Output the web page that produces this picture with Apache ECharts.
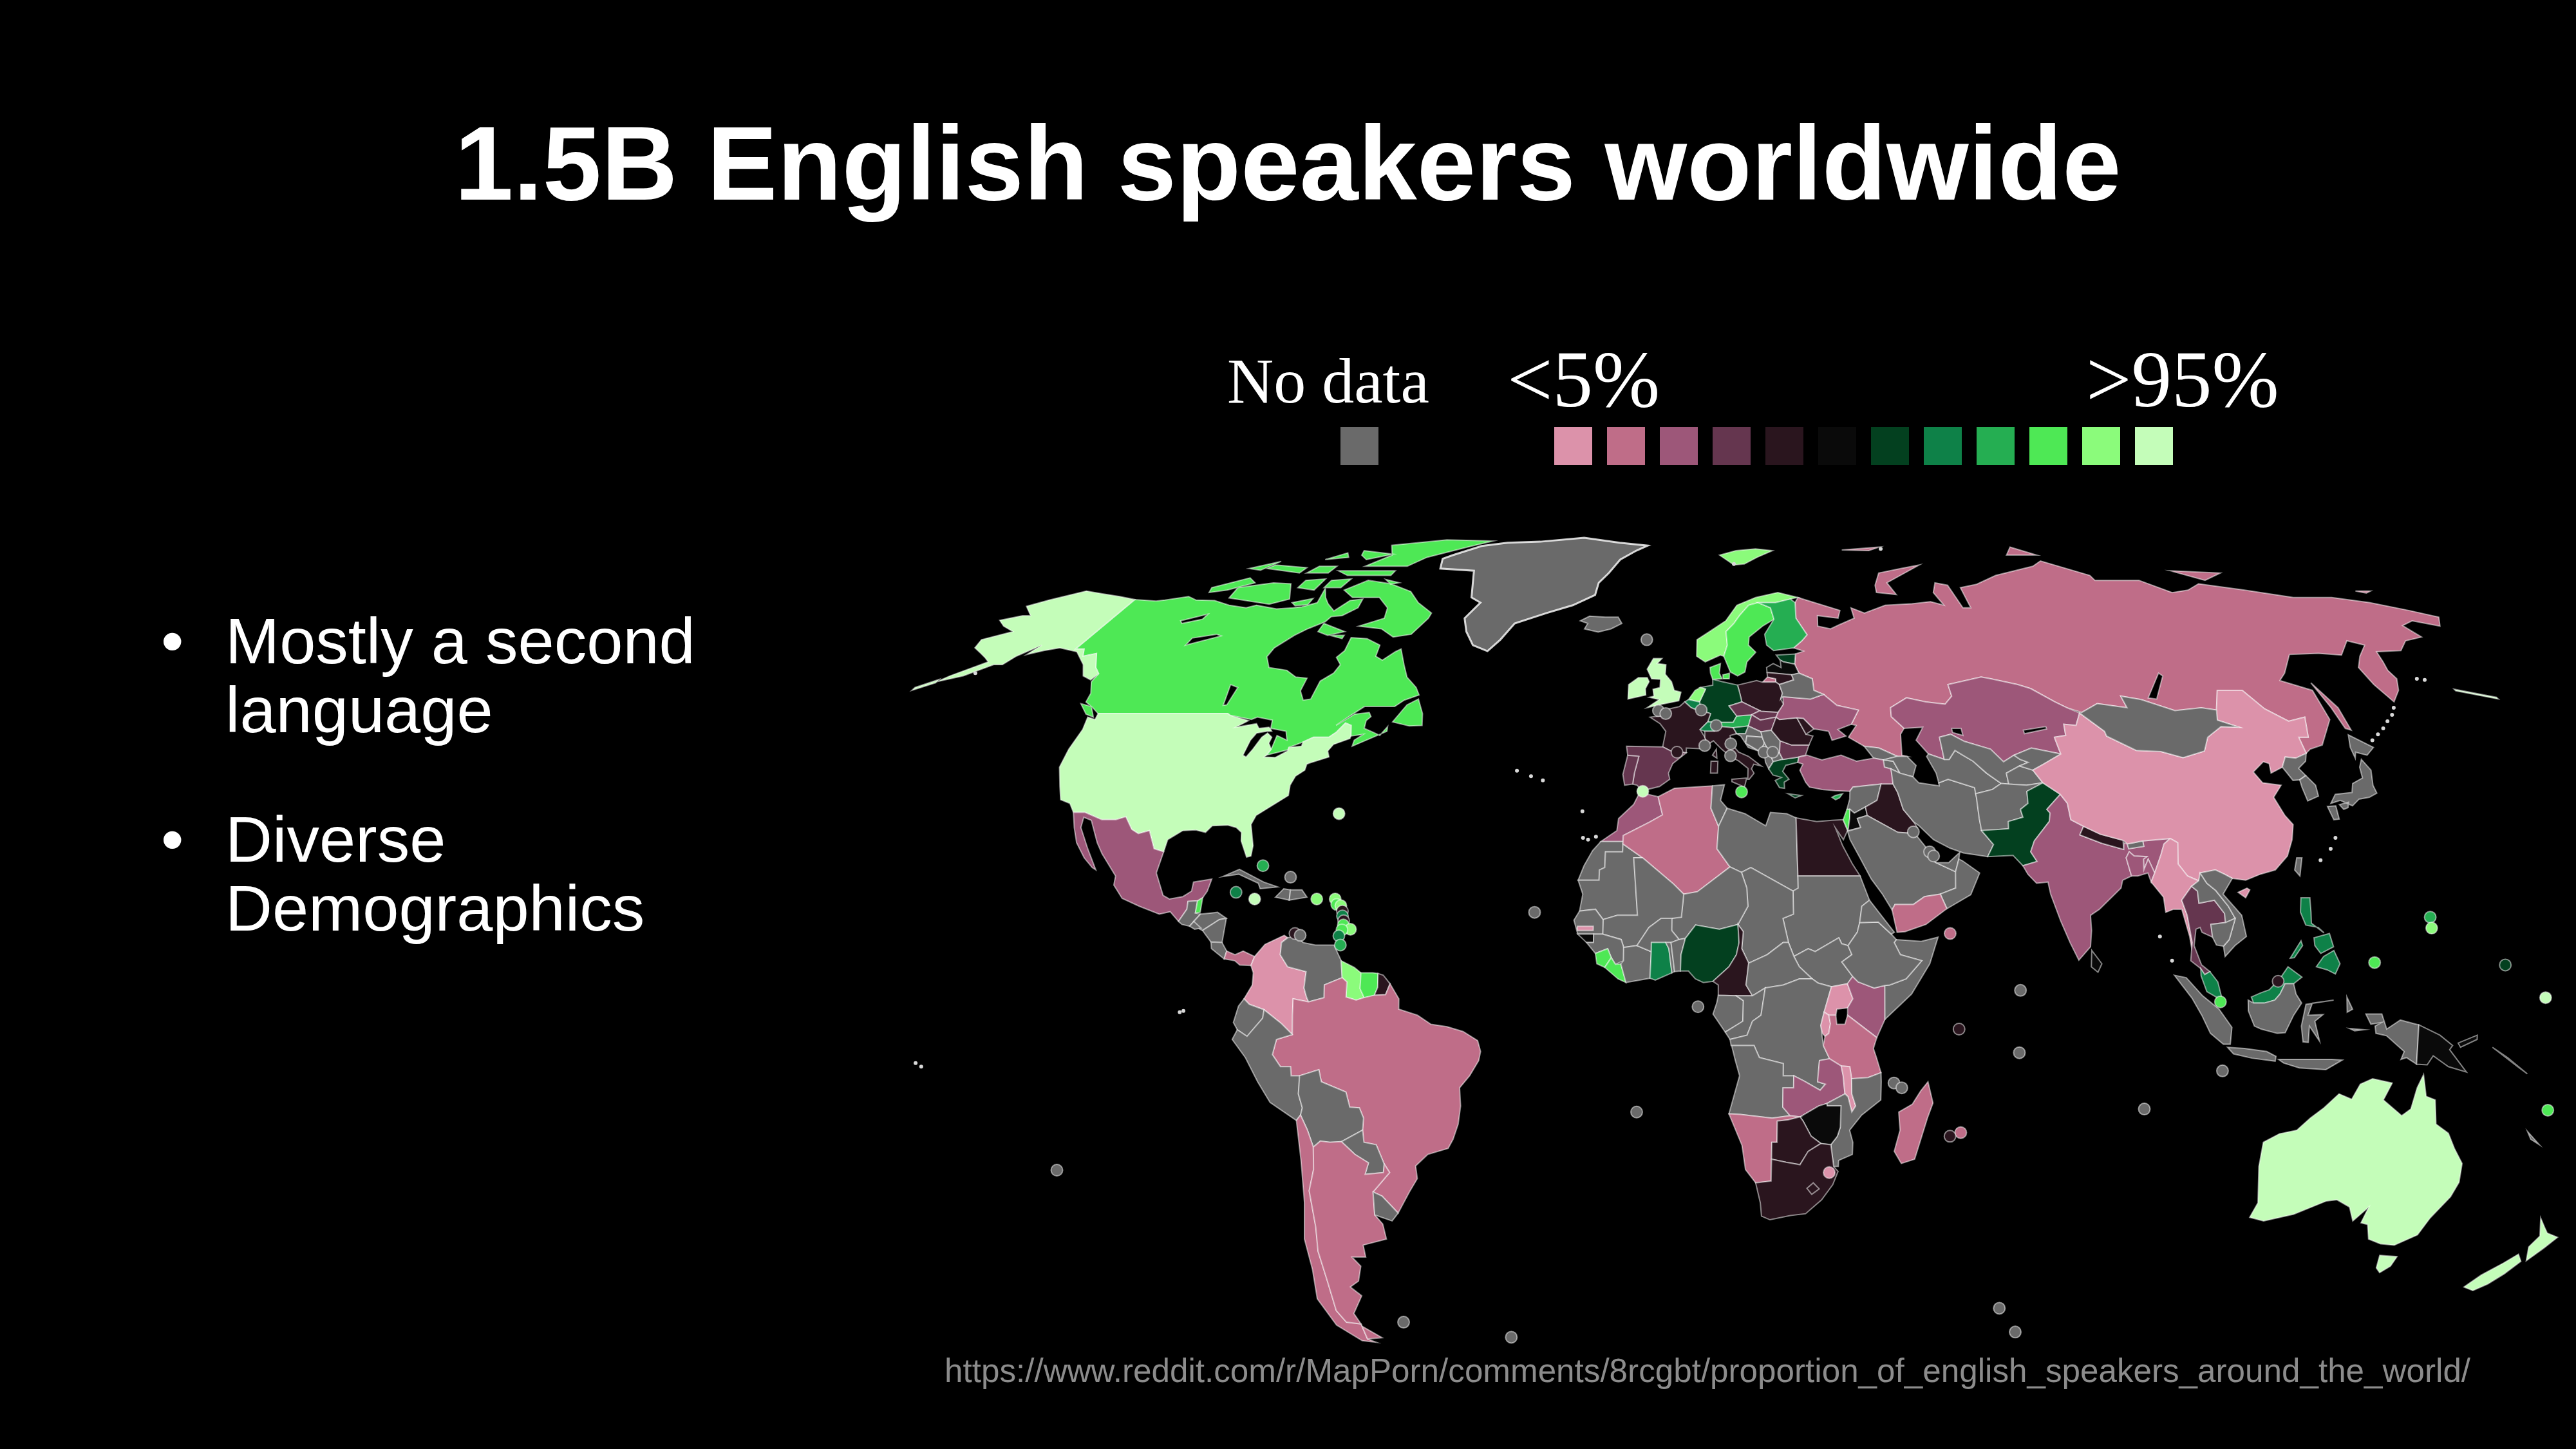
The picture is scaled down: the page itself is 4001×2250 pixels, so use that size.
<!DOCTYPE html>
<html>
<head>
<meta charset="utf-8">
<title>1.5B English speakers worldwide</title>
<script src="https://cdn.jsdelivr.net/npm/echarts@6/dist/echarts.min.js"></script>
<style>
  html, body { margin: 0; padding: 0; background: #000; }
  #main { width: 4001px; height: 2250px; }
</style>
</head>
<body>
<div id="main"></div>
<script>
// share bands, <5% ... >95%, same order as the legend
var bandColors = ['#dc92aa', '#bf6d88', '#9d5779', '#65364f', '#2a151e', '#0a0a0a',
  '#03401f', '#0e8148', '#25ae52', '#4ee855', '#8bfb7b', '#c4fdb9'];
var noDataColor = '#6a6a6a';

var noDataCountries = ['Greenland', 'Iceland', 'Guatemala', 'Honduras', 'El Salvador', 'Nicaragua', 'Costa Rica', 'Cuba',
  'Haiti', 'Dominican Rep.', 'Venezuela', 'Ecuador', 'Peru', 'Bolivia', 'Paraguay', 'Uruguay', 'W. Sahara', 'Mauritania',
  'Tunisia', 'Libya', 'Sudan', 'S. Sudan', 'Chad', 'Niger', 'Mali', 'Senegal', 'Guinea', "Cote d'Ivoire", 'Burkina Faso',
  'Togo', 'Benin', 'C.A.R.', 'Congo', 'Gabon', 'D.R.C.', 'Somalia', 'Ethiopia', 'Eritrea', 'Angola', 'Mozambique',
  'Croatia', 'Bosnia', 'Serbia', 'Montenegro', 'Albania', 'Macedonia', 'Belarus', 'Georgia', 'Armenia', 'Azerbaijan',
  'Syria', 'Saudi Arabia', 'U.A.E.', 'Oman', 'Iran', 'Turkmenistan', 'Uzbekistan', 'Tajikistan', 'Kyrgyzstan',
  'Afghanistan', 'Bhutan', 'Mongolia', 'Taiwan', 'N. Korea', 'S. Korea', 'Japan', 'Laos', 'Vietnam', 'Cambodia',
  'Indonesia', 'New Caledonia'];

var bandCountries = [
  ['China', 'Colombia', 'Myanmar', 'Gambia', 'Uganda', 'Malawi', 'Rwanda'],
  ['Russia', 'Brazil', 'Argentina', 'Chile', 'Algeria', 'Madagascar', 'Namibia', 'Yemen', 'Panama', 'Tanzania'],
  ['Mexico', 'Morocco', 'Ukraine', 'Kazakhstan', 'Turkey', 'India', 'Kenya', 'Zambia', 'Bangladesh'],
  ['Spain', 'Portugal', 'Czechia', 'Slovakia', 'Hungary', 'Bulgaria', 'Thailand'],
  ['France', 'Italy', 'Poland', 'Lithuania', 'Romania', 'Moldova', 'Egypt', 'Iraq', 'Cameroon', 'Botswana', 'South Africa', 'Lesotho', 'Nepal', 'French Guiana'],
  ['Latvia', 'Zimbabwe', 'Papua New Guinea', 'Sri Lanka', 'Jordan', 'Guinea-Bissau'],
  ['Germany', 'Pakistan', 'Nigeria', 'Estonia', 'Greece', 'Slovenia'],
  ['Ghana', 'Malaysia', 'Philippines', 'Switzerland', 'Belgium'],
  ['Finland', 'Austria', 'Cyprus'],
  ['Canada', 'Sweden', 'Denmark', 'Belize', 'Suriname', 'Sierra Leone', 'Liberia', 'Israel'],
  ['Norway', 'Netherlands', 'Guyana', 'Svalbard'],
  ['United States', 'United Kingdom', 'Ireland', 'Australia', 'New Zealand']
];

// small islands and microstates, [lon, lat, band] (0 = no data)
var islandDots = [
  [-77.6, 23.7, 9], [-64.8, 32.3, 12], [-82, 19.3, 8], [-78.3, 18.2, 12], [-72, 21.8, 0], [-66.5, 18.2, 11],
  [-63, 18.2, 11], [-62.6, 17.3, 10], [-61.8, 17.1, 11], [-61.4, 16.2, 5], [-61.3, 15.4, 8], [-61, 14.6, 5],
  [-61, 13.9, 10], [-59.6, 13.2, 11], [-61.2, 13.1, 10], [-61.7, 12.1, 8], [-61.3, 10.6, 9], [-70, 12.5, 5], [-69, 12.2, 0],
  [-118, -26.6, 0], [-59, -52, 0], [-36.3, -54.6, 0], [-25, 16, 0], [-5.7, -17, 0], [6, 0.4, 0], [-7, 62, 0],
  [-3, 49.5, 0], [-1.4, 49, 0], [6.2, 49.6, 0], [7, 43.6, 0], [1.3, 42.5, 5], [9.4, 47, 0], [12.4, 43.9, 0], [12.3, 41.9, 0],
  [19.2, 42.5, 0], [21, 42.5, 0], [-5.3, 36, 12], [14.4, 35.9, 10], [47.7, 29.3, 0], [50.5, 26, 0], [51.2, 25.3, 0],
  [42.9, -12.2, 0], [44.4, -13, 0], [54.9, -3.3, 5], [56, -20.4, 2], [54, -21, 5], [31.2, -27, 1], [66.4, 3.1, 0], [66.3, -7.2, 0],
  [53.5, 12.5, 2], [70.3, -49.6, 0], [75.8, -53.7, 0], [90.5, -16.5, 0], [104.6, -10.2, 0], [103.8, 1.2, 10], [114.7, 4.6, 5],
  [144.4, 15.2, 9], [144.4, 13.4, 11], [133, 7.7, 10], [157.5, 7.3, 7], [164.7, 1.9, 12], [167, -16.7, 10]
];

// specks too small to carry a colour, [lon, lat]
var islandSpecks = [
  [-28, 38.5], [-25.5, 37.8], [-31, 39.4], [-16.5, 28.3], [-14, 28.5], [-15.5, 28], [-17, 32.7], [-91, -0.5], [-90.3, -0.3],
  [-141, -8.9], [-140, -9.5], [146, 44.5], [148, 45.5], [150, 46.5], [152, 47.7], [154, 48.8], [155.5, 50], [128, 26.5],
  [125.5, 24.6], [129.5, 28.3], [166.5, 55], [168, 54.8], [-158, 56], [15, 77], [60, 80.5], [95, 8], [93, 12]
];

var outlines = {
  'Russia': [
    '31,70 33,69.5 41,67.5 40,66 35,66.5 34.5,64.5 37.5,64 40,64.8 44,66 44,68 47,67 53,68.5 60,68.8 65,69.2 68,68.5 67,71 69,73 72,72.5 72.5,68 74.5,68 75,72 80,72.7 87,74.5 100,76.5 104,77.7 113,74.5 113,73.5 125,73.5 130,71 135,71.5 140,72.8 150,71.5 160,70 170,70 178,69 185,67.5 190,66.2 187,64.5 182,65.5 178,64.6 179,62.5 174,61.8 170,60 164,59.8 163,58 162,56.5 162,55 160,53 156.7,51 155.7,54 156,57 159,59 163,61 160,61.8 155,59.2 150,59.5 143,59.3 138,56 135.5,54.7 141,53 140,48 135,43.7 132,43 130.7,42.3 131,45 133,45 135,48.4 131,47.7 127.5,49.8 125.5,53 120,53 117,49.6 114,50 108,49.5 102,51.4 98,52 98,50 92,50.7 87.8,49.2 85,50 83,51 79,53.3 76.5,54 71,55 69,55.3 61,54 61,52 59,50.6 55,51 51,51.7 47,50 46.8,48.5 49,46.5 48,45.5 47.5,42 48.5,41.8 46.5,41.8 43,43.2 40,43.5 37,45 39,47 38,47.2 40,49.6 35.5,50.4 33,52.3 31,53 31,55 28.2,56 27.5,57.6 28,59.4 30,59.9 27.8,60.5 30,61.8 31.5,62.9 29.5,66 30,69',
    '19.8,54.4 22.8,54.4 22.8,55 21,55.3',
    '52,71 57,70.6 56,73 68,76.8 62,76 55,75 52.5,72.5',
    '142,54.3 143.5,50 143,46.2 142,46.5 142,50',
    '96,79 105,79 100,81',
    '137,75.5 150,75 143,73.5',
    '179,71.3 183,71.3 181,70.9',
    '48,80.2 60,81 56,80'
  ],
  'Canada': [
    '-141,69.6 -135,69.3 -133,69.5 -128,70.2 -125,69.5 -120,69.4 -115,68.5 -110,68 -108,68.5 -102,67.8 -98,68 -96,68.2 -93,69 -94.5,71.9 -92,70 -90,68.8 -87,67.4 -85,69.4 -82,69.7 -81.5,68 -84,66.5 -86.5,66.3 -87,65.3 -90,64 -92,62.8 -94.5,60.5 -94.7,58.9 -92.5,57 -88,56.5 -85,55.3 -82.3,55.1 -82.2,52.9 -80.5,51.3 -79,51.5 -79,54.6 -77,56 -76.6,57.5 -78.5,58.8 -77.5,60 -78,62.4 -74,62.2 -70,61 -69.5,59 -67.5,58.3 -65.5,59.8 -64.5,60.3 -62,57.5 -60,55.3 -57,53.5 -55.7,52.2 -58.5,51.3 -60,50.2 -66.5,50.2 -69,48.5 -71,47 -68,48.9 -65,49.2 -64.3,48.5 -65,47.8 -64.8,46.5 -62.5,45.8 -61,45.3 -60,46.8 -59.8,46 -63.5,44.5 -66,43.5 -66,44.5 -64.5,45.5 -67,45.2 -67.8,47 -69.2,47.4 -70.3,45.9 -71.5,45 -74.7,45 -76.5,44.2 -79,43.3 -79,42.9 -83,42 -82.5,43 -82.5,45.3 -80,44.5 -81,46 -84.5,46.5 -85,47.9 -88.5,48.4 -89.5,48 -94.5,48.7 -95.2,49 -123,49 -125,50 -127.5,51 -128,52.5 -130,54.5 -130,55.9 -132,57 -135,59.5 -137.5,59 -139,60.3 -141,60.3',
    '-123.5,48.4 -125.5,48.9 -128.3,50.7 -125.5,50.2',
    '-59.3,47.6 -55.5,46.9 -52.8,47 -53.5,49 -55.5,51.5 -57.5,50.5',
    '-62,66 -64,63 -68,62.5 -72,64 -78,64.5 -73,66 -74,68 -78,70 -85,70 -89,71.5 -85,73.5 -78,72.8 -71,71.2 -67,69 -62,67',
    '-117,69.9 -105,68.7 -101,69.7 -105,72.8 -110,73 -118,72',
    '-125,72 -118,74 -115,73 -120,71.5 -124,71',
    '-90,76.5 -78,76.5 -75,78.5 -66,81 -60,82.7 -75,83 -90,81.5 -86,79',
    '-96,75.5 -80,75.5 -80,74.5 -92,74.5',
    '-96,80 -86,79.2 -92,78 -95,79',
    '-117,76 -106,75 -106,76.2 -116,76.8',
    '-87,65 -80.5,63.5 -84,62.8 -87,63.5',
    '-95,73.5 -90,73.8 -90.5,72 -95,72',
    '-102,73.5 -97,73.8 -97,71.5 -102,72',
    '-99.5,69 -95,69.8 -95,68.6 -98,68.4',
    '-104,75 -98,75 -98,76.5 -103,76.5',
    '-122,76 -116,77.6 -118,75.6',
    '-104,78 -98,78.5 -100,79.5',
    '-80.5,73.7 -76,73 -78,72.7',
    '-83.5,62.8 -80,62.2 -80,62.8'
  ],
  'United States': [
    '-123,49 -95.2,49 -94.5,48.7 -90,47.8 -92,46.7 -88,47.3 -87,46.5 -85,46.7 -84.5,46.4 -84,46 -85,46 -87,45.7 -87.6,44.5 -87.8,42 -87,41.7 -86.3,43 -85.5,45 -84.7,45.7 -83.4,45 -83.5,44 -82.5,43 -83,42 -83.3,41.7 -81,41.6 -79,42.7 -79,43.3 -76.5,43.5 -76.5,44.2 -74.7,45 -71.5,45 -70.3,45.9 -69.2,47.4 -67.8,47 -67,45.2 -67,44.8 -70,43.8 -70.7,42.7 -70,41.7 -73.5,40.7 -74,40.5 -74,39.5 -75.5,38.5 -76,37 -75.7,35.3 -77.8,34 -81,32 -81.5,30.5 -80.2,27 -80.2,25.3 -81,25.1 -82.7,27.8 -83,29.2 -84.2,30 -86,30.4 -89,30.3 -90,29.2 -92,29.6 -94.5,29.5 -97,28 -97.2,26 -99.2,26.5 -101,29.5 -103,29 -104.5,29.7 -106.5,31.8 -108.2,31.3 -111,31.3 -114.8,32.5 -117.1,32.5 -118.5,34 -120.6,34.6 -122,36.8 -124,40 -124.3,43 -124,46.3 -124.7,48.4 -122.8,48',
    '-141,69.6 -141,60.3 -139,60.3 -137.5,59 -135,59.5 -132,57 -130,55.9 -130.5,54.8 -133,55.5 -135.5,57.5 -140,59.8 -145,60.5 -148,60 -151,59.3 -150,61 -153,59 -154,57.5 -156,57.5 -160,55.5 -164.5,54.5 -163,55.5 -158,58 -160,58.8 -162,59.5 -165,60.5 -166,62 -161,63.5 -165,64.5 -168,65.6 -164,66.5 -162,66.5 -166.5,68.3 -163,69.5 -157,71.3 -152,70.8 -146,70.2',
    '-164.5,54.3 -168,53 -168,53.5 -164.5,54.9',
    '172.5,52.9 180,51.5 180,51.8 172.5,53.2'
  ],
  'Mexico': ['-117.1,32.5 -114.8,32.5 -111,31.3 -108.2,31.3 -106.5,31.8 -104.5,29.7 -103,29 -101,29.5 -99.2,26.5 -97.2,26 -97.8,22.5 -95.8,18.8 -94.5,18.2 -92,18.6 -90.5,19.5 -90.4,21 -87,21.5 -87.5,19.5 -88.2,18.4 -89.1,17.9 -90.9,17.8 -90.9,16.5 -92.2,14.5 -94,16.1 -96,15.7 -100,17 -103.5,18.3 -105.5,20.5 -105.5,22 -109,25.7 -110.5,27.5 -113,31.2 -114.7,31.7 -114.5,30 -112,26.5 -109.5,23 -110.3,23.4 -112.2,25 -114.5,27.5 -115.8,30'],
  'Guatemala': ['-92.2,14.5 -90.9,16.5 -90.9,17.8 -89.1,17.9 -89.2,15.9 -88.2,15.7 -89.3,14.5 -90,13.7 -91.5,14'],
  'Belize': ['-89.1,17.9 -88.2,18.4 -88.3,16 -89.2,15.9'],
  'Honduras': ['-89.3,14.5 -88.2,15.7 -85,16 -83.2,15 -84.5,14.8 -87.5,13 -88,13.2 -89.3,14'],
  'El Salvador': ['-90,13.7 -89.3,14.5 -87.8,13.4 -89,13.2'],
  'Nicaragua': ['-87.5,13 -84.5,14.8 -83.2,15 -83.6,11 -85.7,11.1'],
  'Costa Rica': ['-85.7,11.1 -83.6,11 -82.6,9.6 -83,8.3 -85.5,10'],
  'Panama': ['-83,8.3 -82.6,9.6 -81,9 -79.5,9.6 -77.3,8.7 -77.9,7.2 -80,7.3 -81,8'],
  'Cuba': ['-85,21.9 -82,23.1 -77,21 -74.2,20.2 -77.5,19.9 -78,20.8 -82,22.3'],
  'Haiti': ['-74.4,18.5 -71.7,18 -71.7,19.7 -73,19.9'],
  'Dominican Rep.': ['-71.7,18 -68.4,18.5 -69.5,19.7 -71.7,19.7'],
  'Greenland': ['-70,78.2 -68,76 -58,75.5 -54,70 -51,69 -53,66 -51,63.5 -48,61 -44,59.9 -42,62 -40,65 -33,67 -27,68.5 -22,70.5 -22,73 -20,75 -18,78 -14,80 -11,81.4 -20,82.2 -32,83.6 -45,82.5 -55,82.2 -62,81.3 -65,80 -68,79'],
  'Iceland': ['-24,65.5 -22,66.4 -18,66.2 -14.8,66.2 -13.6,65 -16,64 -19,63.4 -22.5,64 -22,65'],
  'Svalbard': ['11,79 16,80 22,80.5 27,80 22,78.5 18,77 15,76.8'],
  'Colombia': ['-77.3,8.7 -75.5,10.7 -72,12.2 -71.3,11.8 -72.4,11 -72.5,9 -71,7 -67.5,6.2 -67.8,3.5 -67.3,2 -66.9,1.2 -69.8,1.7 -69.9,-1 -70,-4.2 -72,-2.4 -75.2,-0.1 -78,0.8 -79,1.7 -77.5,4 -77.4,6 -77.9,7.2'],
  'Venezuela': ['-71.3,11.8 -72.4,11 -72.5,9 -71,7 -67.5,6.2 -67.8,3.5 -67.3,2 -66.9,1.2 -64,1.9 -64,4 -60.7,5.2 -61,8 -62.5,10.6 -66,10.6 -68.3,11 -70,12.1'],
  'Guyana': ['-61,8 -60.7,5.2 -59.8,4.5 -59.9,2 -58,1.5 -56.5,1.9 -57.3,3.4 -57.2,6 -58.5,6.9'],
  'Suriname': ['-57.2,6 -57.3,3.4 -56.5,1.9 -54.6,2.3 -54,3.6 -54,5.9 -55,6'],
  'French Guiana': ['-54,5.9 -54,3.6 -54.6,2.3 -52.5,2.4 -51.7,4.2 -53,5.6'],
  'Brazil': ['-51.7,4.2 -52.5,2.4 -54.6,2.3 -56.5,1.9 -58,1.5 -59.9,2 -59.8,4.5 -60.7,5.2 -64,4 -64,1.9 -66.9,1.2 -69.8,1.7 -69.9,-1 -70,-4.2 -73,-5 -73.9,-7.5 -72.5,-9.5 -70.6,-9.5 -70.6,-11 -69,-11 -65.3,-10 -65,-12 -60.5,-13.7 -60,-16.2 -58.2,-16.3 -57.6,-18 -58,-20 -58,-22 -55.7,-22.4 -54.6,-25.6 -53.8,-27 -57.6,-30.2 -56,-30.9 -53.5,-33.7 -52.2,-32.2 -50.5,-30.2 -48.6,-28 -48.6,-25.9 -46,-24 -42,-23 -40.9,-21.5 -39.7,-19 -39,-16 -39,-13 -37,-11 -35.2,-8.5 -34.8,-7 -35.3,-5.2 -38,-3.7 -41,-2.9 -44,-2.5 -46.5,-1 -50,0 -50,1.7'],
  'Ecuador': ['-78,0.8 -75.2,-0.1 -75.5,-1.5 -78.5,-4.5 -80.3,-3.4 -81,-2.2 -80,0.5 -79,1.7'],
  'Peru': ['-75.2,-0.1 -72,-2.4 -70,-4.2 -73,-5 -73.9,-7.5 -72.5,-9.5 -70.6,-9.5 -70.6,-11 -69,-11 -69.5,-14 -69,-16.3 -69.5,-17.5 -70.4,-18.4 -75,-15.4 -77,-12 -79,-8 -81.3,-5 -80.3,-3.4 -78.5,-4.5 -75.5,-1.5'],
  'Bolivia': ['-69,-11 -65.3,-10 -65,-12 -60.5,-13.7 -60,-16.2 -58.2,-16.3 -57.6,-18 -58,-20 -62.3,-21.9 -64.5,-22 -66.3,-21.8 -67.8,-22.8 -68.5,-20 -69.5,-17.5 -69,-16.3 -69.5,-14'],
  'Paraguay': ['-58,-20 -58,-22 -55.7,-22.4 -54.6,-25.6 -55,-27 -58.6,-27.3 -57.6,-25.4 -60,-24 -62.3,-21.9'],
  'Chile': ['-70.4,-18.4 -69.5,-17.5 -68.5,-20 -67.8,-22.8 -68.4,-26.5 -70,-30 -70.5,-36 -71.5,-40 -71.8,-45 -72.5,-50 -71.5,-52 -68.5,-52.3 -68.6,-54.9 -67,-55.5 -70,-55.2 -74,-52.5 -75.5,-48 -74,-43 -73.5,-38 -71.5,-32 -70.5,-25'],
  'Argentina': ['-66.3,-21.8 -64.5,-22 -62.3,-21.9 -60,-24 -57.6,-25.4 -58.6,-27.3 -55,-27 -54.6,-25.6 -53.8,-27 -57.6,-30.2 -58.2,-34 -57,-35.5 -57,-38 -62,-39 -62.2,-41 -65,-41 -63.8,-42.5 -65.3,-45 -67.5,-46 -65.8,-47.5 -69,-50.5 -68.5,-52.3 -71.5,-52 -72.5,-50 -71.8,-45 -71.5,-40 -70.5,-36 -70,-30 -68.4,-26.5 -67.8,-22.8', '-68.5,-52.7 -65.2,-54.7 -68.6,-54.9'],
  'Uruguay': ['-57.6,-30.2 -56,-30.9 -53.5,-33.7 -55,-35 -58.2,-34'],
  'Morocco': ['-5.9,35.8 -2.2,35.1 -1.2,32.1 -3.7,30.9 -8.7,28.7 -8.7,27.7 -13,27.7 -10,29.5 -9.8,31.5 -7,33.8'],
  'W. Sahara': ['-13,27.7 -8.7,27.7 -8.7,26 -12,26 -12,23.4 -13,23 -13,21.3 -17,21.3 -16,23.7 -14.5,26.2'],
  'Mauritania': ['-17,21.3 -13,21.3 -13,23 -12,23.4 -12,26 -8.7,26 -8.7,27.3 -4.8,25 -6.5,25 -5.5,15.5 -9.3,15.5 -12,14.8 -13.5,16.5 -16.5,16.2 -16,19'],
  'Algeria': ['-2.2,35.1 1,36.5 8.6,36.9 8.3,33.2 9.8,30.2 9.5,26.5 12,23.5 5.8,19.4 3.2,19 1.2,20.7 -4.8,25 -8.7,27.3 -8.7,28.7 -3.7,30.9 -1.2,32.1'],
  'Tunisia': ['8.6,36.9 11,37.1 10.2,34.5 11.5,33.2 9.8,30.2 8.3,33.2'],
  'Libya': ['11.5,33.2 15,32.3 19,30.3 20,32.5 23.2,32.3 25,31.6 25,20 24,19.5 16,23.4 14.2,22.6 12,23.5 9.5,26.5 9.8,30.2'],
  'Egypt': ['25,31.6 29,31 32,31.2 34.2,31.3 34.9,29.5 34,28 32.6,29.9 33.8,27 35.5,24 36.9,22 25,22'],
  'Sudan': ['24,19.5 25,20 25,22 36.9,22 38.5,18 37,17 36.5,14.3 36,12.7 34.2,10.5 33,10.8 32.5,11.8 28,9.5 26.7,10 24,8.7 23,11 22.5,13 22,15 24,15.7'],
  'S. Sudan': ['34.2,10.5 34.9,9 33,7.8 35,5.4 34,4.2 31,3.7 28.5,4.3 27.4,5 25,7 24,8.7 26.7,10 28,9.5 32.5,11.8 33,10.8'],
  'Chad': ['14.2,22.6 16,23.4 24,19.5 24,15.7 22,15 22.5,13 23,11 22,11 19,9 15.5,7.6 14.2,10 14.5,12.8 13.5,14 15.4,17 15.2,20'],
  'Niger': ['12,23.5 14.2,22.6 15.2,20 15.4,17 13.5,14 10,13.2 5.5,13.9 3.6,11.7 2.4,11.5 1,13 1,15 2.8,15.2 3.2,19 5.8,19.4'],
  'Mali': ['1.2,20.7 3.2,19 2.8,15.2 1,15 -1,15 -3.3,13.5 -5.5,10.5 -8,10.2 -8.5,11.5 -12,12.4 -12,14.8 -9.3,15.5 -5.5,15.5 -6.5,25 -4.8,25'],
  'Senegal': ['-16.5,16.2 -13.5,16.5 -12,14.8 -12,12.4 -16.7,12.4 -17.5,14.7'],
  'Gambia': ['-16.8,13.7 -13.8,13.7 -13.8,13 -16.8,13'],
  'Guinea-Bissau': ['-16.7,12.4 -13.7,12.4 -13.7,11 -15,11'],
  'Guinea': ['-13.7,12.4 -12,12.4 -8.5,11.5 -8,10.2 -8,8 -9.5,7.4 -10.3,8.5 -11,10 -13.3,9.2 -15,11 -13.7,11'],
  'Sierra Leone': ['-13.3,9.2 -11,10 -10.3,8.5 -11.5,6.9 -13,7.5'],
  'Liberia': ['-11.5,6.9 -10.3,8.5 -9.5,7.4 -8.5,7.5 -7.5,4.4 -9,5'],
  "Cote d'Ivoire": ['-8.5,7.5 -8,8 -8,10.2 -5.5,10.5 -2.8,9.5 -3,5.1 -7.5,4.4'],
  'Burkina Faso': ['-5.5,10.5 -3.3,13.5 -1,15 1,15 1,13 2.4,11.5 0.9,11 -0.1,11 -2.8,11 -2.8,9.5'],
  'Ghana': ['-2.8,11 -0.1,11 0.5,10 1.1,6 -2,4.8 -3,5.1 -2.8,9.5'],
  'Togo': ['-0.1,11 0.9,11 1.6,6.2 1.1,6 0.5,10'],
  'Benin': ['0.9,11 2.4,11.5 3.6,11.7 2.8,9 2.7,6.3 1.6,6.2'],
  'Nigeria': ['2.7,6.3 2.8,9 3.6,11.7 5.5,13.9 10,13.2 13.5,14 13.7,11 13.2,9 11.8,7 8.8,4.6 7,4.4 5.5,5 4.2,6.3'],
  'Cameroon': ['13.5,14 14.5,12.8 14.2,10 15.5,7.6 15,4 16.2,2.2 13.2,2.2 9.8,2.3 9.8,4 8.8,4.6 11.8,7 13.2,9 13.7,11'],
  'C.A.R.': ['15.5,7.6 19,9 22,11 23,11 24,8.7 25,7 27.4,5 25,5 22,4 18.6,3.5 16.2,2.2 15,4'],
  'Gabon': ['9.8,2.3 13.2,2.2 14.5,1.4 14.4,-2 11.1,-3.8 8.8,-0.8 9.5,1'],
  'Congo': ['13.2,2.2 16.2,2.2 18.6,3.5 17.8,-1 16.2,-2 15.2,-4.3 12,-5 11.1,-3.8 14.4,-2 14.5,1.4'],
  'D.R.C.': ['18.6,3.5 22,4 25,5 27.4,5 28.5,4.3 31,3.7 29.6,-0.5 29,-2.7 29.5,-6 30.7,-8.2 28.8,-8.5 28.5,-12 30,-12.4 29,-13.4 26,-11.9 24,-11 22,-11 22,-9 17.5,-8 16.5,-6 12.2,-6 12,-5 15.2,-4.3 16.2,-2 17.8,-1'],
  'Uganda': ['31,3.7 34,4.2 35,1.7 34,0.2 32,0 31.8,-1 30.5,-1 29.6,-0.5'],
  'Kenya': ['34,4.2 35,5.4 36,4.5 39,3.5 41,3.9 41,-1.7 39.5,-4.7 37.7,-3.5 34,-1 34,0.2 35,1.7'],
  'Rwanda': ['29,-2.7 29.6,-0.5 30.5,-1 30.8,-2.4 30.5,-4 29.8,-4.5 29.3,-4'],
  'Tanzania': ['29.8,-4.5 30.5,-4 30.8,-2.4 30.5,-1 31.8,-1 32,-2.5 33.5,-2.5 34,-1 37.7,-3.5 39.5,-4.7 38.9,-6.5 39.5,-8 40.4,-10.5 38,-11.3 34.9,-11.5 34.5,-9.5 32.9,-9.4 30.7,-8.2 29.5,-6'],
  'Somalia': ['41,-1.7 41,3.9 41.9,4 45,5 48,8 44,9 42.9,11 43.3,11.5 48,11.2 51.2,11.9 49.5,7.5 46,2.5'],
  'Ethiopia': ['36.5,14.3 40,14.4 42.4,12.4 43.3,11.5 42.9,11 44,9 48,8 45,5 41.9,4 41,3.9 39,3.5 36,4.5 35,5.4 33,7.8 34.9,9 34.2,10.5 36,12.7'],
  'Eritrea': ['38.5,18 43,12.7 42.4,12.4 40,14.4 36.5,14.3 37,17'],
  'Angola': ['12.3,-6 16.5,-6 17.5,-8 22,-9 22,-11 24,-11 24,-13 22,-13 22,-16.2 23.4,-17.6 20,-18 14,-17.4 11.8,-17.3 13.8,-11 13,-8.5'],
  'Zambia': ['24,-11 26,-11.9 29,-13.4 30,-12.4 28.5,-12 28.8,-8.5 30.7,-8.2 32.9,-9.4 33.3,-11 33.7,-14 30.3,-15.6 28.8,-16 25.3,-17.8 23.4,-17.6 22,-16.2 22,-13 24,-13'],
  'Malawi': ['32.9,-9.4 34.5,-9.5 34.9,-11.5 35,-14 35.8,-16 35.1,-17 34.3,-14.5 33.7,-14 33.3,-11'],
  'Mozambique': ['40.4,-10.5 38,-11.3 34.9,-11.5 35,-14 35.8,-16 35.1,-17 34.3,-14.5 33.7,-14 30.3,-15.6 30.4,-16 33,-16 33,-19.5 32.5,-21 31.3,-22.4 32,-26 32.9,-26 32.9,-25 35.5,-24 35.5,-22 34.8,-20 37,-17.5 40.5,-15 40.5,-12'],
  'Zimbabwe': ['25.3,-17.8 28.8,-16 30.3,-15.6 30.4,-16 33,-16 33,-19.5 32.5,-21 31.3,-22.4 29.4,-22.2 27.5,-21 25.9,-18.5'],
  'Namibia': ['11.8,-17.3 14,-17.4 20,-18 23.4,-17.6 25.3,-17.8 23,-18.3 21,-18.5 21,-22 20,-22 20,-28.4 17,-28.7 15,-26.5 14.3,-22.5'],
  'Botswana': ['21,-18.5 23,-18.3 25.3,-17.8 25.9,-18.5 27.5,-21 29.4,-22.2 27,-23.5 25.5,-25.7 22.8,-25.3 20,-24.8 20,-22 21,-22'],
  'South Africa': ['17,-28.7 20,-28.4 20,-24.8 22.8,-25.3 25.5,-25.7 27,-23.5 29.4,-22.2 31.3,-22.4 32,-26 32.9,-26.8 32,-29 30,-31.5 27,-33.8 24,-34.1 20,-34.8 18.3,-34.2 18,-32'],
  'Lesotho': ['27,-29.6 28.2,-28.7 29.4,-29.7 28,-30.6'],
  'Madagascar': ['49.3,-12 50.4,-15.5 49.5,-18 47.5,-24.8 45,-25.5 43.5,-23.5 44.4,-20 44,-17 46.5,-15.7 48,-13.5'],
  'United Kingdom': ['-5.5,50 -3,50.5 1.3,51.2 1.7,52.7 0.2,53 -0.5,54.5 -2,55.8 -2,57.5 -4,57.7 -3,58.6 -5,58.6 -6.2,56.7 -5,55 -3,54.9 -3,53.5 -4.5,53.2 -4.2,52 -5.2,51.8 -3,51.4'],
  'Ireland': ['-6.2,53.3 -6,52.2 -9.8,51.5 -10,54 -8,55.2 -6,55.2 -5.5,54.5'],
  'Norway': ['5,59 7,58 10.5,59.2 11.3,59 12.2,61 12,63.5 14,65 15.5,66.5 18,68.5 20.5,69 25,69 29,69.7 31,70 26,71 20,70 15,68.5 12,65.5 8,63.5 5,62'],
  'Sweden': ['11.3,59 12.7,56.2 14.3,55.5 16,56.2 16.6,58 18.8,59.7 17.2,61 17.5,62.5 21,64.5 24,65.8 23.5,68 20.5,69 18,68.5 15.5,66.5 14,65 12,63.5 12.2,61'],
  'Finland': ['24,65.8 21.3,63 21.5,61 23,60 27.8,60.5 30,61.8 31.5,62.9 29.5,66 30,69 29,69.7 25,69 20.5,69 23.5,68'],
  'Denmark': ['8.1,57 10.5,57.7 10.2,56 10.8,55 8.7,54.9 8.2,56', '11,55.7 12.5,56 12.4,55 11,55'],
  'Estonia': ['23.5,59.2 28,59.4 27.5,57.6 25,58 24.3,58.3'],
  'Latvia': ['21,57 22.6,57.7 24.3,57 24.3,58.3 25,58 27.5,57.6 28.2,56 26.5,55.7 21,56.1'],
  'Lithuania': ['21,56.1 26.5,55.7 26.8,54.8 23.5,54 22.8,54.4 22.8,55 21,55.3'],
  'Poland': ['14.2,53.9 18.5,54.7 19.8,54.4 22.8,54.4 23.5,54 24,52.5 23.5,51.5 24,50.6 22.7,49.2 19,49.4 18.8,49.5 15,51 14.6,52.6'],
  'Germany': ['6,53.5 8.7,53.9 8.7,54.9 10.8,54.5 14.2,53.9 14.6,52.6 15,51 12.2,50.3 13.8,48.6 13,47.5 9.6,47.5 7.6,47.6 8.2,49 6.2,49.5 5.8,51 7.1,53.2'],
  'Netherlands': ['3.4,51.4 4.8,53 6,53.5 7.1,53.2 5.8,51 4,51.3'],
  'Belgium': ['2.6,51 3.4,51.4 4,51.3 5.8,51 6.2,49.5 5,49.7 4,50'],
  'France': ['-1.7,43.4 -1.2,46 -2.5,47.3 -4.7,48.4 -1.5,48.7 -1.3,49.7 1.5,50.2 2.6,51 4,50 5,49.7 6.2,49.5 8.2,49 7.6,47.6 6,46.3 7,45 7.6,43.8 6,43.1 3.2,43.2 3.2,42.4 0,42.7', '8.6,42 9.4,43 9.5,41.5'],
  'Spain': ['-9.2,43.5 -1.7,43.4 0,42.7 3.2,42.4 0.5,40.6 -0.3,39 0,38 -2,36.8 -5.4,36.1 -6.5,37 -7.4,37.2 -7.2,39 -6.5,41.8 -8.8,42'],
  'Portugal': ['-8.8,42 -6.5,41.8 -7.2,39 -7.4,37.2 -9,37 -9.5,38.8'],
  'Switzerland': ['6,46.3 7.6,47.6 9.6,47.5 10.4,46.8 9,46 7,46'],
  'Austria': ['9.6,47.5 13,47.5 13.8,48.6 17,48.8 16.2,46.9 13,46.6 10.4,46.8'],
  'Czechia': ['12.2,50.3 15,51 18.8,49.5 17,48.8 13.8,48.6'],
  'Slovakia': ['17,48.8 18.8,49.5 19,49.4 22.7,49.2 22.2,48.4 18.8,47.9'],
  'Hungary': ['16.2,46.9 17,48.8 18.8,47.9 22.2,48.4 21,46.2 18.8,45.9'],
  'Italy': ['7,45 7,46 9,46 10.4,46.8 13,46.6 13.7,45.6 12.3,45.3 12.4,44 14,42.5 16,41.8 18.5,40.2 17,40.5 16.5,39.7 17,39 16,38 15.7,38 15.8,39.8 14,41 12.2,41.8 10.5,43 8.8,44.4 7.6,43.8', '12.5,38 15.5,38.2 15,36.7 12.5,37.6', '8.2,39 8.3,41 9.7,41 9.6,39'],
  'Slovenia': ['13.7,45.6 13,46.6 16.2,46.9 15.5,45.6'],
  'Croatia': ['13.7,45.6 15.5,45.6 16.2,46.9 18.8,45.9 19,45 15.8,45.2 15.5,44 18.4,42.6 16,43.3 14.5,45.2'],
  'Bosnia': ['15.8,45.2 19,45 19.4,44 18.4,42.6 15.5,44'],
  'Serbia': ['18.8,45.9 21,46.2 22.7,44.4 22.4,42.4 20.5,42 19.4,44 19,45'],
  'Montenegro': ['18.4,42.6 19.4,44 20.5,42 19.3,41.9'],
  'Albania': ['19.3,41.9 20.5,42 21,40.9 20,39.7 19.4,40.8'],
  'Macedonia': ['20.5,42 22.4,42.4 23,41.3 21,40.9'],
  'Greece': ['20,39.7 21,40.9 23,41.3 26.3,41.7 26,40.8 23.5,40.3 22.8,39.3 24,38 23,37.5 23,36.5 22,36.6 21.2,37.8 22.5,38.3 20.8,38.7', '23.6,35.6 26.3,35.3 25,34.9'],
  'Bulgaria': ['22.4,42.4 22.7,44.4 25,43.7 28.6,43.7 27.7,42 26.3,41.7 23,41.3'],
  'Romania': ['21,46.2 22.2,48.4 22.9,48 26.6,48.3 28.2,45.5 29.6,45.2 28.6,43.7 25,43.7 22.7,44.4'],
  'Moldova': ['26.6,48.3 28,48.2 30,46.4 28.2,45.5'],
  'Ukraine': ['24,50.6 24,51.9 30,51.5 33,52.3 35.5,50.4 40,49.6 38,47.2 35,46.3 36.5,45.2 33.5,44.5 33,46 30.8,46.3 30,46.4 28,48.2 26.6,48.3 22.9,48 22.2,48.4 22.7,49.2'],
  'Belarus': ['23.5,54 26.8,54.8 26.5,55.7 28.2,56 31,55 31,53 33,52.3 30,51.5 24,51.9 23.5,51.5 24,52.5'],
  'Georgia': ['40,43.5 43,43.2 46.5,41.8 43.5,41.2 41.6,41.5'],
  'Armenia': ['43.5,41.2 45.5,41 46.5,39 44.8,39.7 43.5,40'],
  'Azerbaijan': ['46.5,41.8 48.5,41.8 50,40.3 49,38.4 46.5,39 45.5,41 43.5,41.2'],
  'Turkey': ['26,40.8 26.3,41.7 28,42 31,41.2 35,42 38,41 41.6,41.5 43.5,41.2 43.5,40 44.8,39.7 44.8,37.2 42.4,37.2 36.7,36.7 36,36 33,36.1 30.5,36.3 28,36.7 27.3,37.5 26.3,39.5 27,40.5'],
  'Cyprus': ['32.3,35 33,35.3 34.5,35.6 33.8,34.9 33,34.6'],
  'Syria': ['36,36 36.7,36.7 42.4,37.2 41.2,34.5 38.8,33.4 36.5,32.4 35.7,33 35.1,33 35.8,34.7'],
  'Israel': ['35.1,33 35.7,33 35.5,31.5 35,29.5 34.2,31.3'],
  'Jordan': ['35.7,33 36.5,32.4 38.8,33.4 39,32 37,31.5 37.5,30 35,29.5 35.5,31.5'],
  'Iraq': ['42.4,37.2 44.8,37.2 45.5,35.8 46.2,33 48,30.9 48.5,30 47.7,30 46.5,29.1 44.7,29.2 39,32 38.8,33.4 41.2,34.5'],
  'Saudi Arabia': ['34.9,29.4 37.5,30 37,31.5 39,32 44.7,29.2 46.5,29.1 48.4,28.5 50,26.6 50.8,24.8 51.6,24.2 55.2,22.7 55,20 52,19 49,18.6 46.8,17.3 43.3,17.3 42.7,16.4 41,19 39,21.5 37,25 35.3,28'],
  'U.A.E.': ['51.6,24.2 55.2,22.7 56,24.8 56.3,25.9 54,24.2'],
  'Oman': ['55.2,22.7 55,20 52,19 53.1,16.6 57.8,18.9 59.8,22.5 56.7,24.5 56,24.8'],
  'Yemen': ['43.3,17.3 46.8,17.3 49,18.6 52,19 53.1,16.6 49,14 45,12.8 43.5,12.7 42.7,16.4'],
  'Iran': ['44.8,39.7 46.5,39 49,38.4 50,37.4 54,36.9 54,37.4 56,38 61,36.6 61,35 60.9,31.5 61,29.5 63,27.2 61.6,25.2 57,25.8 54.5,26.6 51.5,28 48.9,30.3 48,30.9 46.2,33 45.5,35.8 44.8,37.2'],
  'Kazakhstan': ['47,50 51,51.7 55,51 59,50.6 61,52 61,54 69,55.3 71,55 76.5,54 79,53.3 83,51 85,50 87.3,49.1 85.5,47 83,47.2 82.5,45.3 80,45 80.2,42.2 74.5,43.2 70.5,42 68,40.9 66,43 61,44.3 58.5,45.5 56,45 56,41.3 53,42.2 51,44.5 53,46.7 49,46.5 46.8,48.5'],
  'Turkmenistan': ['52.5,41.8 53,42.2 56,41.3 57,41.3 58.6,42.8 60,42 61.8,41 64,39 66.5,37.3 64.5,36.3 61,35.6 61,36.6 56,38 54,37.4 53.8,39'],
  'Uzbekistan': ['56,41.3 57,41.3 58.6,42.8 60,42 61.8,41 64,39 66.5,37.3 68,37.2 68,39 71,40.2 73,40.8 71.5,41.3 70.5,42 68,40.9 66,43 61,44.3 58.5,45.5 56,45'],
  'Tajikistan': ['68,37.2 71.5,37 74.9,37.4 73.5,39.5 71,40.2 68,39'],
  'Kyrgyzstan': ['70.5,42 71.5,41.3 73,40.8 71,40.2 73.5,39.5 76,40.5 80.2,42.2 74.5,43.2'],
  'Afghanistan': ['61,35.6 64.5,36.3 66.5,37.3 68,37.2 71.5,37 74.9,37.4 71.3,36 71,34 69.3,33 69.5,31.7 66.5,31 66.3,29.8 61,29.5 60.9,31.5 61,35'],
  'Pakistan': ['61,29.5 66.3,29.8 66.5,31 69.5,31.7 69.3,33 71,34 71.3,36 74.9,37.4 77.8,35.5 74.5,33 75,32.4 74.5,31 71,27.8 70,26 71,24.4 68.2,23.7 66.5,25.4 61.6,25.2 63,27.2'],
  'India': ['77.8,35.5 78.8,34 78.8,31.3 81,30.2 80,28.8 84,27.4 88,26.4 88.3,27.5 88.9,27.3 89,26.5 92,26.9 92,27.8 97.4,28.2 96,27.3 95,25.5 93.3,22.5 92.4,24.8 91.3,23 91.5,24.8 92.2,25.2 89.8,25.3 89,26 88.2,25 88.8,22 87,21.3 86.5,20 82,16.5 80.2,15.5 80.2,13 79.8,10.3 77.5,8.1 76,11 74.5,14.5 73,19 72.7,21 70.5,20.8 69,22.3 68.2,23.7 71,24.4 70,26 71,27.8 74.5,31 75,32.4 74.5,33'],
  'Nepal': ['80,28.8 81,30.2 84,28.9 88.2,27.9 88,26.4 84,27.4'],
  'Bhutan': ['88.9,27.3 92,27.8 92,26.9 89,26.5'],
  'Bangladesh': ['88.2,25 89,26 89.8,25.3 92.2,25.2 91.5,24.8 91.3,23 92.4,24.8 93.3,22.5 92.4,21 92,22.5 90,22 88.8,22'],
  'Sri Lanka': ['80,9.7 81.8,7.5 81,6.1 79.8,7'],
  'China': ['74.9,37.4 73.5,39.5 76,40.5 80.2,42.2 80,45 82.5,45.3 83,47.2 85.5,47 87.3,49.1 91,46 91,45.2 96,42.8 101,42.6 105,41.6 110,42.7 112,45 116,46.8 119.8,46.7 116,47.9 117,49.6 120,53 125.5,53 127.5,49.8 131,47.7 135,48.4 133,45 131,45 130.7,42.3 128,41.5 126,41.7 124.3,40 121.5,39 122,40.6 121,40.9 118,39.2 119,37.4 122.5,37 120,35 121,32 122,30.5 121,28 119.3,25.3 116.5,23 113.5,22.3 110.5,21.3 108,21.6 106.6,22.3 105,23 102,22.5 101.5,21.2 99.5,22 98,24 98.7,27.5 97.4,28.2 92,27.8 88.9,27.3 88.2,27.9 84,28.9 81,30.2 78.8,31.3 78.8,34 77.8,35.5', '108.7,19.3 110.5,20 111,19.7 110,18.4'],
  'Mongolia': ['87.8,49.2 92,50.7 98,50 98,52 102,51.4 108,49.5 114,50 117,49.6 116,47.9 119.8,46.7 116,46.8 112,45 110,42.7 105,41.6 101,42.6 96,42.8 91,45.2 91,46 87.3,49.1'],
  'Taiwan': ['120.2,23 121,25 122,25 121,22'],
  'N. Korea': ['130.7,42.3 128,41.5 126,41.7 124.3,40 125.3,37.8 126.7,37.9 128.3,38.6 127.5,39.8 129.7,41'],
  'S. Korea': ['126.7,37.9 128.3,38.6 129.4,37 129,35.2 126.5,34.4 126.5,36.7'],
  'Japan': ['130.9,34 132.5,35.5 136,35.8 137,37.3 139.5,38.2 140,40 141.3,41.3 142,39.5 140.9,37 140.9,35.7 139,35 136.8,34.7 135,33.6 133,34.5', '130,33.5 131.7,33.6 131.4,31.4 130.3,31.3', '132.5,33.8 134.5,34.2 134,33.3 133,33', '140.2,41.5 140.5,43.3 141.7,45.4 145.3,43.3 143,42 141,42.5'],
  'Myanmar': ['97.4,28.2 98.7,27.5 98,24 99.5,22 101.5,21.2 100,20.3 97.8,18 98.5,15.5 99,11 98.8,10 98.6,12 97.6,16.5 96,16.5 94.5,16 94.4,18.5 92.4,21 93.3,22.5 95,25.5 96,27.3'],
  'Thailand': ['100,20.3 101,19.5 101,17.5 104,18 105.6,15.8 105.6,14.3 102.8,14 102.9,11.9 101,12.7 100.7,13.5 99.9,13.2 99.3,10.5 100.5,7.3 102,6.2 101,5.7 100.3,6.7 98.5,8 98.8,10 99,11 98.5,15.5 97.8,18'],
  'Laos': ['101.5,21.2 102,22.5 103,20.8 104.5,19.6 106.5,17 107.5,15 105.6,14.3 105.6,15.8 104,18 101,17.5 101,19.5 100,20.3'],
  'Vietnam': ['102,22.5 105,23 106.6,22.3 108,21.6 105.8,19 108.8,15.5 109.3,12 107,10.5 105,8.7 104.8,10.4 106,11.5 107.5,15 106.5,17 104.5,19.6 103,20.8'],
  'Cambodia': ['102.9,11.9 102.8,14 105.6,14.3 107.5,15 106,11.5 104.8,10.4 103.5,10.6'],
  'Malaysia': ['100.3,6.7 101,5.7 102,6.2 103.4,4.5 104.2,1.4 101.3,2.9 100.3,5.5', '109.6,2 111.4,2.7 113,3.2 115,5 116.7,7 119.2,5.3 117.6,4.2 116,4.2 115,2.5 114,1.5 112,1 110,1'],
  'Indonesia': [
    '109,1.5 110,1 112,1 114,1.5 115,2.5 116,4.2 117.6,4.2 118,2.5 119,1 117.5,-1 116,-3.9 114.5,-4 111.5,-3.3 110.2,-2.8 109,-0.3',
    '95.3,5.6 97.5,5.2 100.5,2.2 103.5,0 106,-3 105.8,-5.8 104.5,-5.8 102,-4 100.3,-1 98.5,1.8',
    '105.3,-6.3 108.5,-6.5 112.7,-7 114.5,-7.8 114.4,-8.6 110,-8.1 106.5,-7.4',
    '115,-8.3 119,-8.3 123,-8.3 125,-8.3 127,-8.4 124,-10 119,-9.7 116,-8.9',
    '119.8,0.8 125,1.5 121,1 120.2,-1 123,-0.9 121.5,-2 122.5,-5.3 120.5,-2.8 120.4,-5.5 119.4,-5.4 119,-2.8',
    '127.5,2 128.5,0 127.5,-0.5',
    '128,-3.2 130.8,-3.4 129,-3.6',
    '131,-0.8 134,-0.8 135,-3.3 137.5,-1.8 141,-2.6 141,-9.1 139,-8 138,-8.3 138.5,-7 135,-4.4 133,-4 132.8,-2.8 134,-2.2 132,-2.5'
  ],
  'Papua New Guinea': ['141,-2.6 145,-4.3 147.5,-6 147,-6.7 150.5,-10.4 147,-9.5 144,-7.7 143,-9.2 141,-9.1', '148.5,-5.6 152,-4.3 152,-5 149,-6.3', '155,-6.3 160,-9.5 162,-10.7 158,-8'],
  'Philippines': ['120.5,18.4 122.2,18.4 122,16 121.8,14.2 124,12.6 123,13.5 120.7,13.9 120,16', '122,7 123.5,8.7 125.5,9.7 126.5,7.5 125.5,5.8 124,6.5', '122,11.8 125,12.5 125.5,10.3 123,9.2 122,10.5', '117.2,8.4 119.5,11.3 119.7,10.5 118,8.5'],
  'Australia': ['114,-22 114,-26 115.7,-32 115,-34.4 118,-35 123.5,-33.9 129,-31.7 131,-31.5 134,-32.7 135.7,-35 137.8,-32.7 137.5,-35.3 139,-35.6 140.6,-38 143.5,-38.8 146.4,-39 150,-37.3 150.8,-34.5 153,-31 153.6,-28.6 153,-25.5 150.8,-23 149,-20.5 146.3,-19 145.3,-15 143.5,-14.4 142.5,-10.8 141.6,-13 141,-16.5 139.5,-17.6 135.5,-15 136.8,-12.2 133,-11.5 130.8,-12.4 129.5,-14.9 127,-14 124.5,-16.3 122.2,-18 120,-20 116.8,-20.6', '144.6,-40.7 148.3,-40.9 148.2,-42.5 146.8,-43.6 145.5,-42.8'],
  'New Zealand': ['172.7,-34.5 174.5,-36 175.8,-37 178.4,-37.7 177,-39.5 175.3,-41.6 173.8,-39.3 174.7,-37.5', '172.7,-40.5 174.3,-41.7 172.8,-43.8 171,-45.5 169,-46.6 166.5,-46 168.2,-44 171,-42'],
  'New Caledonia': ['164,-20.2 166.9,-22.4 165,-21.5']
};

// lakes cut out of the first ring
var lakes = {
  'Russia': ['103.8,51.7 105.5,51.5 110,55.5 109.5,56'],
  'Canada': ['-123,65.5 -118,66.8 -118,65.8 -122,65', '-116,61 -109.5,62.7 -111,63 -116,62.3', '-98.5,54 -96.5,53.5 -96.5,50.5 -97.2,50.4'],
  'Kazakhstan': ['59,46.5 61,46.5 61,45.3 59,45.8', '74,46.2 79,46.8 79,46.4 74,45.6']
};

// Robinson table, every 5 degrees
var robX = [1, .9986, .9954, .99, .9822, .973, .96, .9427, .9216, .8962, .8679, .835, .7986, .7597, .7186, .6732, .6213, .5722, .5322];
var robY = [0, .062, .124, .186, .248, .31, .372, .434, .4958, .5571, .6176, .6769, .7346, .7903, .8435, .8936, .9394, .9761, 1];

// fitted on the reference; its central meridian bows a little toward high latitudes
var mapCenterX = 2587.5, mapBow = 0.0041, mapEquatorY = 1567, mapScaleX = 8.3, mapScaleY = 757.9;

function robinson(coord) {
  var a = Math.min(Math.abs(coord[1]), 90) / 5;
  var i = Math.min(Math.floor(a), 17);
  var t = a - i;
  var px = robX[i] + (robX[i + 1] - robX[i]) * t;
  var py = robY[i] + (robY[i + 1] - robY[i]) * t;
  return [
    mapCenterX + mapBow * coord[1] * coord[1] + mapScaleX * px * coord[0],
    mapEquatorY - mapScaleY * py * (coord[1] < 0 ? -1 : 1)
  ];
}

function parseRing(text) {
  var ring = text.split(' ').map(function (p) { return p.split(',').map(Number); });
  ring.push(ring[0]);
  return ring;
}

function ringArea(ring) {
  var sum = 0;
  for (var i = 1; i < ring.length; i++) {
    sum += ring[i - 1][0] * ring[i][1] - ring[i][0] * ring[i - 1][1];
  }
  return sum;
}

function genGeoJson() {
  var features = [];
  Object.keys(outlines).forEach(function (name) {
    var polygons = outlines[name].map(function (text) { return [parseRing(text)]; });
    (lakes[name] || []).forEach(function (text) {
      // a hole only cuts when it winds against the outer ring
      var hole = parseRing(text);
      if (ringArea(hole) * ringArea(polygons[0][0]) > 0) hole.reverse();
      polygons[0].push(hole);
    });
    features.push({
      type: 'Feature',
      properties: { name: name },
      geometry: { type: 'MultiPolygon', coordinates: polygons }
    });
  });
  return { type: 'FeatureCollection', features: features };
}

function genMapData() {
  var data = noDataCountries.map(function (name) { return { name: name, value: 0 }; });
  bandCountries.forEach(function (names, i) {
    names.forEach(function (name) { data.push({ name: name, value: i + 1 }); });
  });
  return data;
}

var bandPieces = bandColors.map(function (color, i) { return { value: i + 1, color: color }; });

// box of the projected outlines, so the geo keeps the scale of the projection
var box = [Infinity, Infinity, -Infinity, -Infinity];
var world = genGeoJson();
world.features.forEach(function (f) {
  f.geometry.coordinates.forEach(function (poly) {
    poly[0].forEach(function (c) {
      var p = robinson(c);
      box[0] = Math.min(box[0], p[0]); box[1] = Math.min(box[1], p[1]);
      box[2] = Math.max(box[2], p[0]); box[3] = Math.max(box[3], p[1]);
    });
  });
});

echarts.registerMap('world', world);

var myChart = echarts.init(document.getElementById('main'));
var outline = 'rgba(255,255,255,0.5)';

// y is the baseline; zrender draws the text from its top
function label(text, x, y, size, family, fill, weight) {
  return {
    type: 'text',
    silent: true,
    style: {
      text: text, x: x, y: y - size * 0.78,
      font: (weight || '') + ' ' + size + 'px "' + family + '"',
      fill: fill
    }
  };
}

myChart.setOption({
  animation: false,
  backgroundColor: '#000000',
  geo: {
    map: 'world',
    silent: true,
    roam: false,
    left: box[0],
    top: box[1],
    width: box[2] - box[0],
    height: box[3] - box[1],
    projection: {
      project: robinson,
      unproject: function (p) { return p; }
    },
    label: { show: false },
    itemStyle: { areaColor: noDataColor, borderColor: outline, borderWidth: 2 },
    emphasis: { disabled: true },
    regions: [
      { name: 'Greenland', itemStyle: { borderColor: 'rgba(255,255,255,0.8)', borderWidth: 3 } }
    ]
  },
  visualMap: [
    {
      type: 'piecewise',
      seriesIndex: 0,
      orient: 'horizontal',
      left: 2414,
      top: 663,
      padding: 0,
      itemWidth: 59,
      itemHeight: 59,
      itemGap: 23,
      itemSymbol: 'rect',
      showLabel: false,
      hoverLink: false,
      selectedMode: false,
      pieces: bandPieces,
      outOfRange: { color: noDataColor }
    },
    {
      type: 'piecewise',
      show: false,
      seriesIndex: 1,
      dimension: 2,
      selectedMode: false,
      pieces: bandPieces,
      outOfRange: { color: noDataColor }
    }
  ],
  series: [
    {
      type: 'map',
      geoIndex: 0,
      silent: true,
      data: genMapData()
    },
    {
      type: 'scatter',
      coordinateSystem: 'geo',
      silent: true,
      symbol: 'circle',
      symbolSize: 18,
      itemStyle: { borderColor: outline, borderWidth: 2, opacity: 1 },
      data: islandDots
    },
    {
      type: 'scatter',
      coordinateSystem: 'geo',
      silent: true,
      symbol: 'circle',
      symbolSize: 6,
      itemStyle: { color: '#d8d8d8', opacity: 1 },
      data: islandSpecks
    }
  ],
  graphic: [
    label('1.5B English speakers worldwide', 706, 311, 164, 'Liberation Sans', '#ffffff', 'bold'),
    label('\u2022', 250, 1030, 101, 'Liberation Sans', '#ffffff'),
    label('Mostly a second', 350, 1030, 101, 'Liberation Sans', '#ffffff'),
    label('language', 350, 1137, 101, 'Liberation Sans', '#ffffff'),
    label('\u2022', 250, 1338, 101, 'Liberation Sans', '#ffffff'),
    label('Diverse', 350, 1338, 101, 'Liberation Sans', '#ffffff'),
    label('Demographics', 350, 1445, 101, 'Liberation Sans', '#ffffff'),
    label('No data', 1906, 627, 100, 'Liberation Serif', '#ffffff'),
    label('<5%', 2341, 633, 125, 'Liberation Serif', '#ffffff'),
    label('>95%', 3240, 633, 125, 'Liberation Serif', '#ffffff'),
    label('https://www.reddit.com/r/MapPorn/comments/8rcgbt/proportion_of_english_speakers_around_the_world/', 1467, 2146, 51.2, 'Liberation Sans', '#8c8c8c'),
    { type: 'rect', silent: true, shape: { x: 2082, y: 663, width: 59, height: 59 }, style: { fill: noDataColor } }
  ]
});
</script>
</body>
</html>
